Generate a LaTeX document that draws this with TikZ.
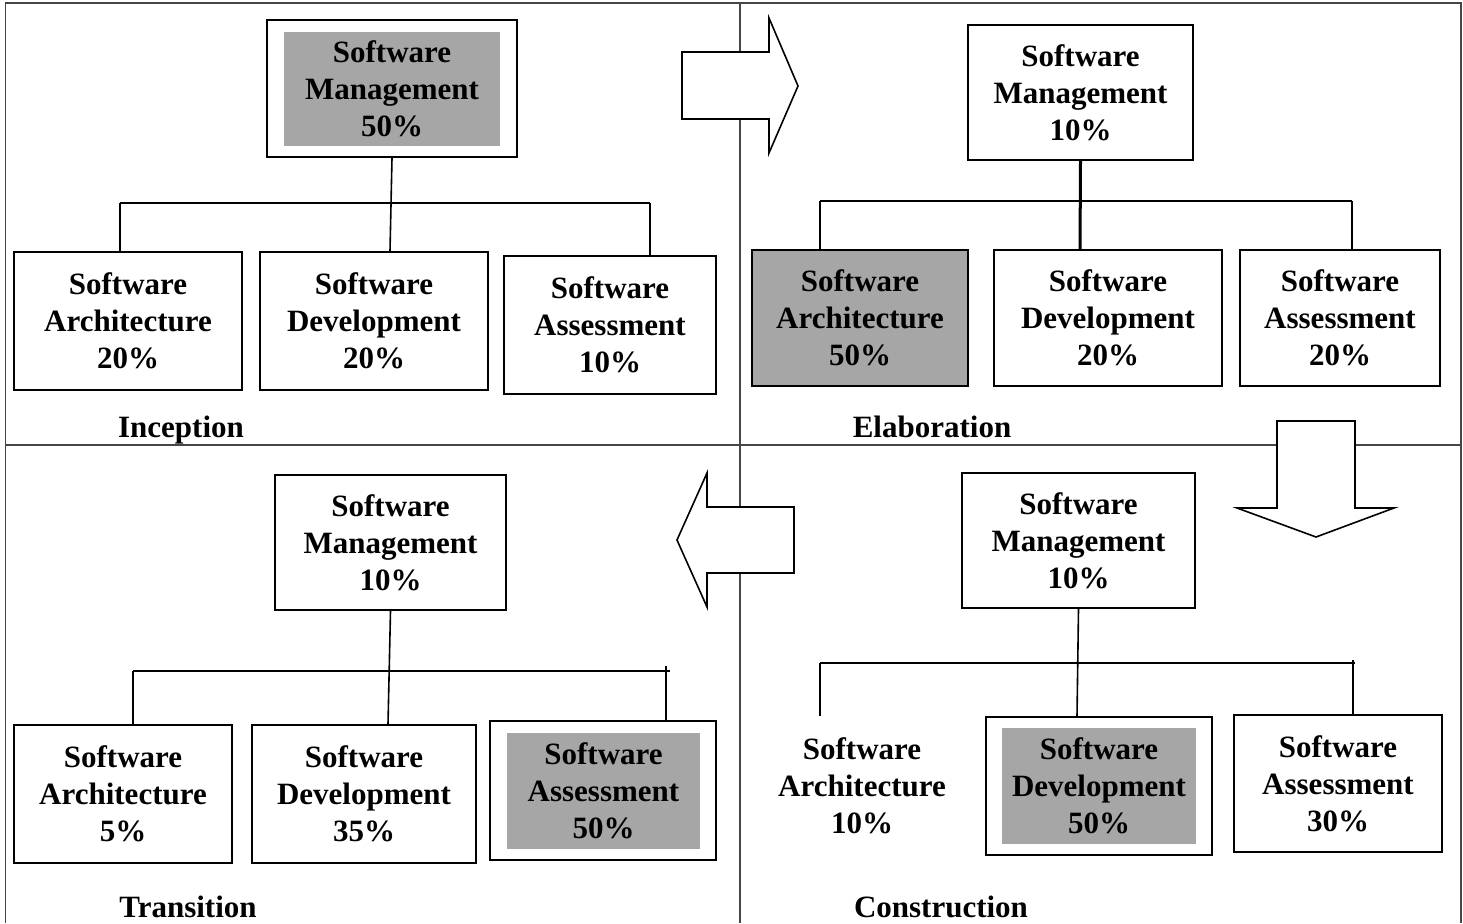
\documentclass[tikz,border=0pt]{standalone}
\usepackage{fontspec}
\setmainfont{Liberation Serif}
\definecolor{boxgray}{RGB}{166,166,166}
\definecolor{framegray}{RGB}{70,70,70}
\begin{document}
\begin{tikzpicture}[x=1pt,y=-1pt,
  txt/.style={font=\fontsize{31}{37}\selectfont\bfseries, align=center, inner sep=0pt},
  box/.style={txt, draw=black, line width=1.8pt, fill=white},
  graybox/.style={txt, fill=boxgray},
  link/.style={draw=black, line width=1.6pt},
  framel/.style={draw=framegray, line width=1.2pt},
  bigarrow/.style={draw=black, line width=1.6pt, fill=white, line join=miter},
  phase/.style={font=\fontsize{31}{37}\selectfont\bfseries, inner sep=0pt, anchor=base}
]
\useasboundingbox (0,0) rectangle (1463,923);
\fill[white] (0,0) rectangle (1463,923);

% frame
\draw[framel] (5.5,923) -- (5.5,3) -- (1461,3) -- (1461,923);
\draw[framel] (5.5,445) -- (1461,445);
\draw[framel] (740,3) -- (740,923);

% ===== Inception =====
\node[box, minimum width=250, minimum height=137] (sm1) at (392,88.5) {};
\node[graybox, minimum width=216, minimum height=114] (sm1t) at (392,89) {Software\\Management\\50\%};
\node[box, minimum width=228, minimum height=138] (arch1) at (128,321) {Software\\Architecture\\20\%};
\node[box, minimum width=228, minimum height=138] (dev1) at (374,321) {Software\\Development\\20\%};
\node[box, minimum width=212, minimum height=138] (ass1) at (610,325) {Software\\Assessment\\10\%};
\coordinate (b1l) at (120,203);
\coordinate (b1r) at (650,203);
\draw[link] (sm1.south) -- (dev1.north -| 390,0);
\draw[link] (b1l) -- (b1r);
\draw[link] (b1l) -- (b1l |- arch1.north);
\draw[link] (b1r) -- (b1r |- ass1.north);
\node[phase] (ph1) at (181,437) {Inception};

% ===== Elaboration =====
\node[box, minimum width=225, minimum height=135] (sm2) at (1080.5,92.5) {Software\\Management\\10\%};
\node[box, fill=boxgray, line width=2.4pt, minimum width=216, minimum height=136] (arch2) at (860,318) {Software\\Architecture\\50\%};
\node[box, minimum width=228, minimum height=136] (dev2) at (1108,318) {Software\\Development\\20\%};
\node[box, minimum width=200, minimum height=136] (ass2) at (1340,318) {Software\\Assessment\\20\%};
\coordinate (b2l) at (820,201);
\coordinate (b2r) at (1352,201);
\coordinate (b2m) at (1080,250);
\draw[link, line width=3pt] (sm2.south) -- (b2m);
\draw[link] (b2l) -- (b2r);
\draw[link] (b2l) -- (b2l |- arch2.north);
\draw[link] (b2r) -- (b2r |- ass2.north);
\node[phase] (ph2) at (932,437) {Elaboration};

% ===== Transition =====
\node[box, minimum width=231, minimum height=135] (sm3) at (390.5,542.5) {Software\\Management\\10\%};
\node[box, minimum width=218, minimum height=138] (arch3) at (123,794) {Software\\Architecture\\5\%};
\node[box, minimum width=224, minimum height=138] (dev3) at (364,794) {Software\\Development\\35\%};
\node[box, minimum width=226, minimum height=139] (ass3) at (603,790.5) {};
\node[graybox, minimum width=193, minimum height=116] (ass3t) at (603.5,791) {Software\\Assessment\\50\%};
\coordinate (b3l) at (133,671);
\coordinate (b3r) at (670,671);
\coordinate (b3t) at (666,666);
\draw[link] (sm3.south) -- (dev3.north -| 388,0);
\draw[link] (b3l) -- (b3r);
\draw[link] (b3l) -- (b3l |- arch3.north);
\draw[link] (b3t) -- (b3t |- ass3.north);
\node[phase] (ph3) at (188,917) {Transition};

% ===== Construction =====
\node[box, minimum width=233, minimum height=135] (sm4) at (1078.5,540.5) {Software\\Management\\10\%};
\node[txt] (arch4) at (862,786) {Software\\Architecture\\10\%};
\node[box, minimum width=226, minimum height=138] (dev4) at (1099,786) {};
\node[graybox, minimum width=194, minimum height=116] (dev4t) at (1099,786) {Software\\Development\\50\%};
\node[box, minimum width=208, minimum height=137] (ass4) at (1338,783.5) {Software\\Assessment\\30\%};
\coordinate (b4l) at (820,663);
\coordinate (b4r) at (1355,663);
\coordinate (b4t) at (1353,660);
\coordinate (b4a) at (820,716);
\draw[link] (sm4.south) -- (dev4.north -| 1077,0);
\draw[link] (b4l) -- (b4r);
\draw[link] (b4l) -- (b4a);
\draw[link] (b4t) -- (b4t |- ass4.north);
\node[phase] (ph4) at (941,917) {Construction};

% ===== big arrows =====
\draw[bigarrow] (682,52) -- (769,52) -- (769,18) -- (798,86) -- (769,153) -- (769,119) -- (682,119) -- cycle;
\draw[bigarrow] (1277,421) -- (1355,421) -- (1355,508) -- (1394,508) -- (1316,537) -- (1237,508) -- (1277,508) -- cycle;
\draw[bigarrow] (794,507) -- (707,507) -- (707,473) -- (677,540) -- (707,607) -- (707,573) -- (794,573) -- cycle;
\end{tikzpicture}
\end{document}
